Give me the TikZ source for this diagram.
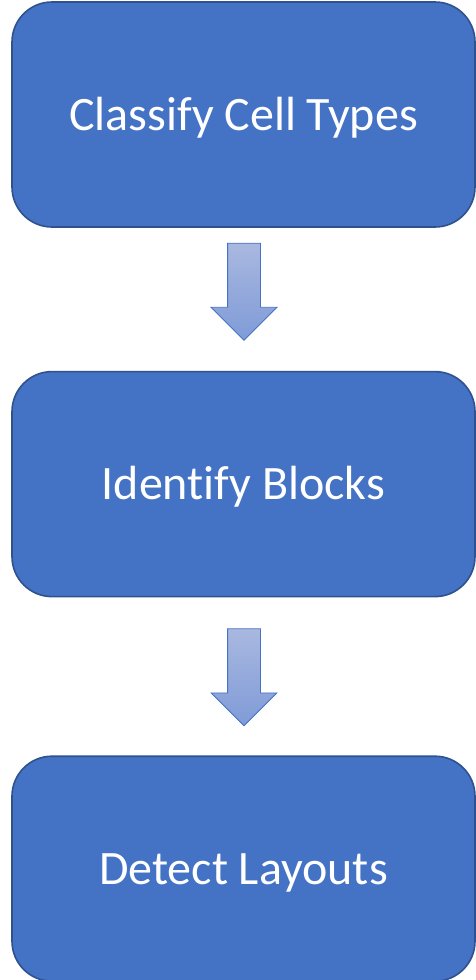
\documentclass[tikz,border=0pt]{standalone}
\usepackage{fontspec}
\setmainfont[Ligatures=NoCommon]{Carlito}
\usetikzlibrary{positioning, shapes.arrows}

\definecolor{boxfill}{HTML}{4472C4}
\definecolor{boxline}{HTML}{2F528F}
\definecolor{arrowtop}{HTML}{A9B8E0}
\definecolor{arrowbot}{HTML}{7F9BD7}

\begin{document}
\begin{tikzpicture}[x=1pt, y=1pt, node distance=143pt]
        \tikzset{stage/.style={draw=boxline, line width=1.6pt, fill=boxfill, rounded corners=40pt,
                minimum width=463pt, minimum height=225pt, text=white,
                text height=31pt, text depth=0pt,
                font=\fontsize{48}{56}\selectfont}}
        % Define attributes for the block arrows
        \tikzset{downarrow/.style={single arrow, draw=boxfill, line width=0.8pt,
                top color=arrowtop, bottom color=arrowbot, shape border rotate=270,
                inner xsep=16pt, inner ysep=0pt, text height=0pt, text depth=0pt,
                minimum height=97pt,
                single arrow head extend=16.5pt, single arrow tip angle=90}}

        \useasboundingbox (0,0) rectangle (476,-980);

        \node[stage] (classify) at (243.5,-114.5) {Classify Cell Types};
        \node[stage] (identify) [below=of classify] {Identify Blocks};
        \node[stage] (detect) [below=158pt of identify] {Detect Layouts};

        \node[downarrow, anchor=tail] (a_1) at ([xshift=0.5pt,yshift=-15pt]classify.south) {};
        \node[downarrow, anchor=tail] (a_2) at ([xshift=0.5pt,yshift=-31pt]identify.south) {};
    \end{tikzpicture}
\end{document}
